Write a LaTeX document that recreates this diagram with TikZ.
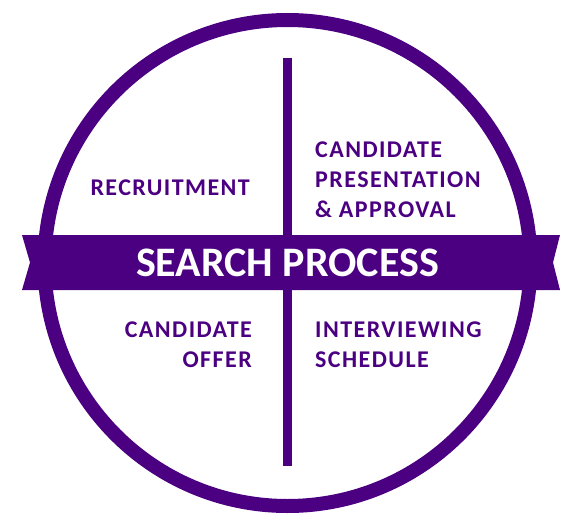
\documentclass[tikz,border=0pt]{standalone}
\usepackage{fontspec}
\setmainfont{Carlito}
\newfontfamily\labelfont[LetterSpace=6]{Carlito}
\newfontfamily\titlefont{Carlito}
\definecolor{sp}{RGB}{75,0,130}
\begin{document}
\begin{tikzpicture}[x=1pt,y=-1pt,
  lbl/.style={inner sep=0pt,text=sp,font=\labelfont\bfseries\fontsize{24}{30}\selectfont},
  ttl/.style={inner sep=0pt,text=white,font=\titlefont\bfseries\fontsize{42}{42}\selectfont}]
\useasboundingbox (0,0) rectangle (576,527);
\fill[white] (0,0) rectangle (576,527);
% circle
\node[circle,draw=sp,line width=14pt,minimum size=486pt,inner sep=0pt] (ring) at (287.5,263) {};
% divider
\coordinate (vtop) at (287,58);
\coordinate (vbot) at (287,466);
\draw[sp,line width=9pt] (vtop) -- (vbot);
% banner
\fill[sp] (22,235) -- (560,235) -- (553,262.5) -- (560,290) -- (22,290) -- (30,262.5) -- cycle;
\node[ttl] (title) at (287.5,263) {SEARCH PROCESS};
% labels
\node[lbl,anchor=north east,align=right] (rec) at (250,179.5) {RECRUITMENT};
\node[lbl,anchor=north west,align=left] (pres) at (315,141.5) {CANDIDATE\\PRESENTATION\\\&{} APPROVAL};
\node[lbl,anchor=north east,align=right] (offer) at (252,321.5) {CANDIDATE\\OFFER};
\node[lbl,anchor=north west,align=left] (sched) at (315,321.5) {INTERVIEWING\\SCHEDULE};
\end{tikzpicture}
\end{document}
